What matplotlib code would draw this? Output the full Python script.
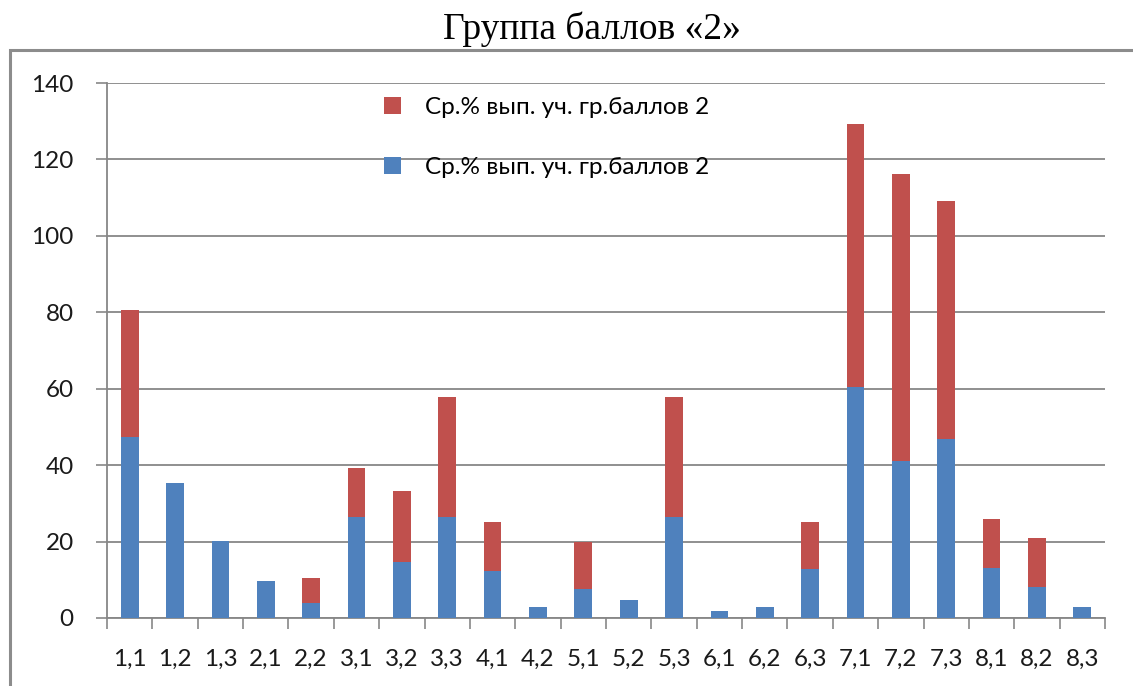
import matplotlib.pyplot as plt
import numpy as np
from matplotlib.patches import Rectangle

categories = ["1,1", "1,2", "1,3", "2,1", "2,2", "3,1", "3,2", "3,3", "4,1", "4,2", "5,1",
              "5,2", "5,3", "6,1", "6,2", "6,3", "7,1", "7,2", "7,3", "8,1", "8,2", "8,3"]

blue = [47.4, 35.3, 20.2, 9.7, 3.9, 26.4, 14.7, 26.4, 12.3, 2.9, 7.6,
        4.7, 26.4, 1.8, 2.9, 12.8, 60.5, 41.1, 46.9, 13.1, 8.1, 2.9]
red = [33.2, 0, 0, 0, 6.6, 12.9, 18.5, 31.5, 12.8, 0, 12.3,
       0, 31.5, 0, 0, 12.3, 68.8, 75.1, 62.3, 12.8, 12.8, 0]

label = "Ср.% вып. уч. гр.баллов 2"
c_blue = "#4F81BD"
c_red = "#C0504D"
grid_c = "#878787"

x = np.arange(len(categories))
width = 0.39

fig = plt.figure(figsize=(11.33, 6.86), dpi=100)
ax = fig.add_axes([107/1133, 1 - 618/686, (1105 - 107)/1133, (618 - 83)/686])

# outer chart border
fig.patches.append(Rectangle((10/1133, -0.05), 1.1, 1 - 50/686 + 0.05,
                             transform=fig.transFigure, fill=False,
                             edgecolor="#8c8c8c", linewidth=2.2))

b1 = ax.bar(x, blue, width, color=c_blue, zorder=3)
b2 = ax.bar(x, red, width, bottom=blue, color=c_red, zorder=3)

ax.set_xlim(-0.5, len(categories) - 0.5)
ax.set_ylim(0, 140)
ax.set_yticks(np.arange(0, 141, 20))
ax.yaxis.grid(True, color=grid_c, linewidth=1.3, zorder=0)

# category boundaries as major ticks, labels on minor ticks
ax.set_xticks(np.arange(-0.5, len(categories), 1))
ax.set_xticklabels([])
ax.set_xticks(x, minor=True)
ax.set_xticklabels(categories, minor=True)
ax.tick_params(axis="x", which="major", length=8, color=grid_c, width=1.2)
ax.tick_params(axis="x", which="minor", length=0, pad=22, labelsize=17.5)
ax.tick_params(axis="y", length=8, color=grid_c, width=1.2, pad=16, labelsize=17.5)

for s in ["top", "right"]:
    ax.spines[s].set_visible(False)
for s in ["left", "bottom"]:
    ax.spines[s].set_color(grid_c)
    ax.spines[s].set_linewidth(1.3)

for t in ax.get_xticklabels(minor=True) + ax.get_yticklabels():
    t.set_family(["Lato", "DejaVu Sans"])
    t.set_color("#1a1a1a")

leg = ax.legend([b2, b1], [label, label], loc="upper left",
                bbox_to_anchor=((362 - 107)/998, 1 - (75 - 83)/535),
                frameon=False, handlelength=0.7, handleheight=0.7,
                labelspacing=1.6, handletextpad=1.0,
                prop={"family": ["Lato", "DejaVu Sans"], "size": 17.5})

fig.text(592/1133, 1 - 29/686, "Группа баллов «2»", ha="center", va="center",
         fontsize=27, family=["Liberation Serif", "DejaVu Serif"])

fig.savefig("out.png", dpi=100)
